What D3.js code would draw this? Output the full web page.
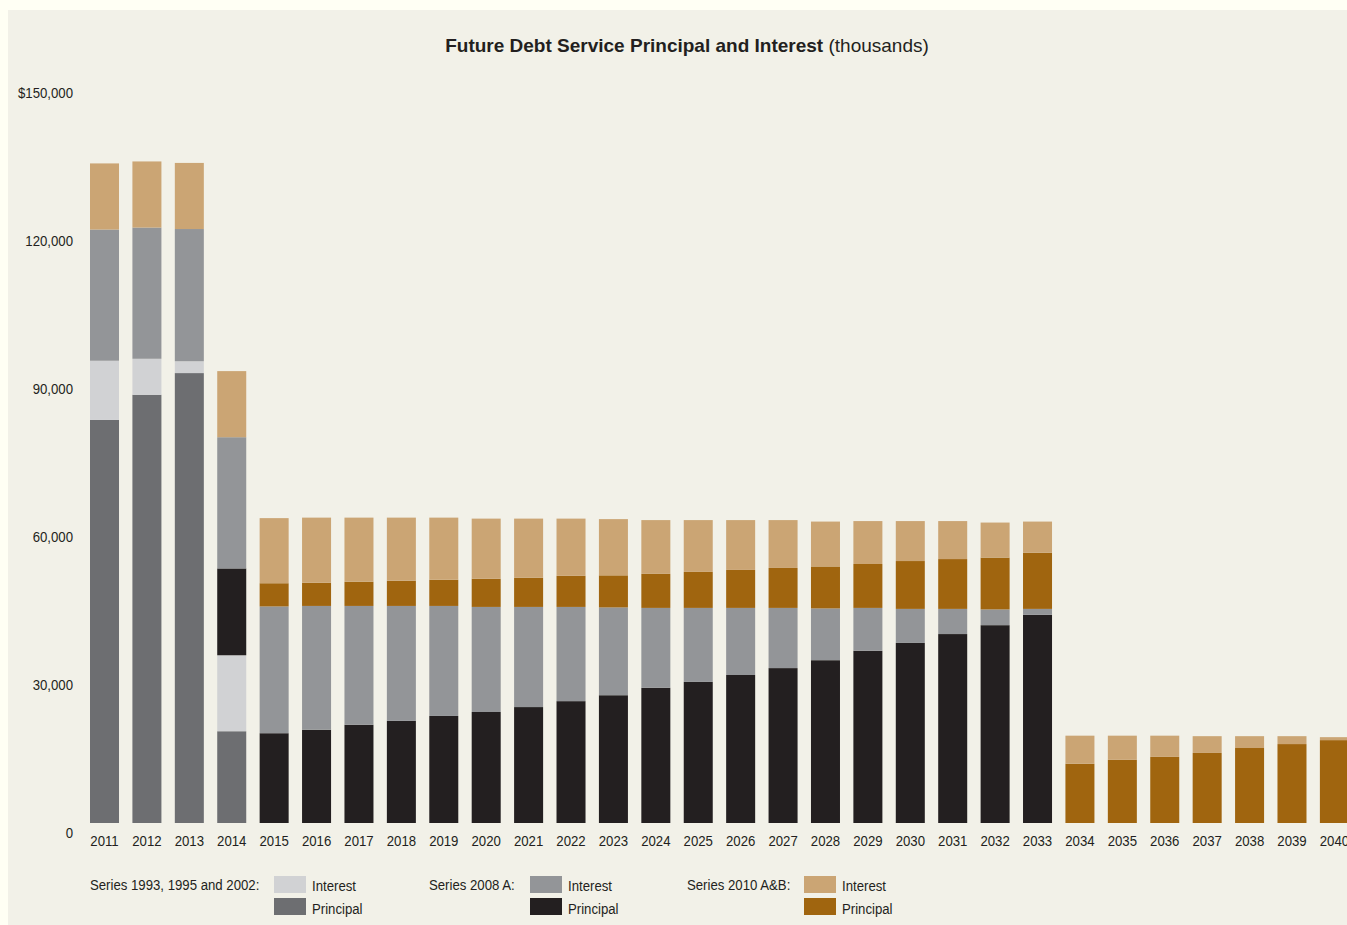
<!DOCTYPE html>
<html>
<head>
<meta charset="utf-8">
<script src="https://cdnjs.cloudflare.com/ajax/libs/d3/7.8.5/d3.min.js"></script>
<style>
  html, body { margin: 0; padding: 0; background: #fffff4; }
  svg { display: block; }
  text { font-family: "Liberation Sans", Arial, sans-serif; fill: #231f20; }
</style>
</head>
<body>
<script>
'use strict';

// years on the x axis
var years = d3.range(2011, 2041).map(String);

// Series 1993, 1995 and 2002 (thousands)
var s93Principal = [81700, 86800, 91200, 18600, 0, 0, 0, 0, 0, 0, 0, 0, 0, 0, 0, 0, 0, 0, 0, 0, 0, 0, 0, 0, 0, 0, 0, 0, 0, 0];
var s93Interest = [12000, 7300, 2400, 15400, 0, 0, 0, 0, 0, 0, 0, 0, 0, 0, 0, 0, 0, 0, 0, 0, 0, 0, 0, 0, 0, 0, 0, 0, 0, 0];

// Series 2008 A
var s08Principal = [0, 0, 0, 17600, 18200, 18900, 19900, 20700, 21700, 22500, 23500, 24700, 25900, 27400, 28600, 30000, 31400, 33000, 34900, 36500, 38300, 40100, 42200, 0, 0, 0, 0, 0, 0, 0];
var s08Interest = [26600, 26600, 26800, 26600, 25700, 25100, 24100, 23300, 22300, 21300, 20300, 19100, 17800, 16200, 15000, 13600, 12200, 10500, 8700, 6900, 5100, 3200, 1200, 0, 0, 0, 0, 0, 0, 0];

// Series 2010 A&B
var s10Principal = [0, 0, 0, 0, 4700, 4700, 4900, 5100, 5300, 5700, 5900, 6300, 6500, 6900, 7300, 7700, 8100, 8500, 8900, 9700, 10100, 10500, 11400, 12000, 12800, 13400, 14200, 15200, 16000, 16800];
var s10Interest = [13400, 13400, 13400, 13400, 13200, 13200, 13000, 12800, 12600, 12200, 12000, 11600, 11400, 10900, 10500, 10100, 9700, 9100, 8700, 8100, 7700, 7100, 6300, 5700, 4900, 4300, 3400, 2400, 1600, 600];

var yTicks = [0, 30000, 60000, 90000, 120000, 150000];

// stacking order bottom -> top
var layers = [
    { key: 's93p', values: s93Principal, color: '#6d6e71' },
    { key: 's93i', values: s93Interest, color: '#d1d2d4' },
    { key: 's08p', values: s08Principal, color: '#231f20' },
    { key: 's08i', values: s08Interest, color: '#939598' },
    { key: 's10p', values: s10Principal, color: '#a0650f' },
    { key: 's10i', values: s10Interest, color: '#cba574' }
];

var legendGroups = [
    { label: 'Series 1993, 1995 and 2002:', x: 90, sx: 274, interest: '#d1d2d4', principal: '#6d6e71' },
    { label: 'Series 2008 A:', x: 429, sx: 530, interest: '#939598', principal: '#231f20' },
    { label: 'Series 2010 A&B:', x: 687, sx: 804, interest: '#cba574', principal: '#a0650f' }
];

var W = 1347, H = 925;
var narrow = 0.88; // the original uses a condensed face

// squeeze text horizontally around its anchor point
var condense = function (sel, k) {
    sel.each(function () {
        var t = d3.select(this);
        var tx = +t.attr('x') || 0;
        var ty = +t.attr('y') || 0;
        t.attr('x', 0).attr('y', 0)
            .attr('transform', 'translate(' + tx + ',' + ty + ') scale(' + k + ',1)');
    });
};

var svg = d3.select('body').append('svg')
    .attr('width', W)
    .attr('height', H);

// panel
svg.append('rect')
    .attr('x', 8).attr('y', 10)
    .attr('width', W - 8).attr('height', H - 10)
    .attr('fill', '#f2f1e8');

var rows = years.map(function (yr, i) {
    var r = { year: yr };
    layers.forEach(function (l) { r[l.key] = l.values[i]; });
    return r;
});

var stack = d3.stack().keys(layers.map(function (l) { return l.key; }));
var series = stack(rows);

var x = d3.scaleBand()
    .domain(years)
    .range([76.6, 1362.3])
    .padding(0.316);

var y = d3.scaleLinear()
    .domain([0, 150000])
    .range([823, 83]);

// title
var title = svg.append('text')
    .attr('x', 687)
    .attr('y', 52)
    .attr('text-anchor', 'middle')
    .style('font-size', '19px');
title.append('tspan').style('font-weight', 'bold').text('Future Debt Service Principal and Interest');
title.append('tspan').text(' (thousands)');

// bars
var g = svg.append('g');
g.selectAll('g.layer')
    .data(series)
    .enter()
    .append('g')
    .attr('class', 'layer')
    .attr('fill', function (s, i) { return layers[i].color; })
    .selectAll('rect')
    .data(function (s) { return s; })
    .enter()
    .append('rect')
    .attr('x', function (d) { return x(d.data.year); })
    .attr('width', x.bandwidth())
    .attr('y', function (d) { return y(d[1]); })
    .attr('height', function (d) { return y(d[0]) - y(d[1]); });

// y axis labels (no line)
var yAxis = d3.axisLeft(y)
    .tickValues(yTicks)
    .tickSize(0)
    .tickPadding(0)
    .tickFormat(function (v) {
        var s = d3.format(',')(v);
        return v === 150000 ? '$' + s : s;
    });
var ya = svg.append('g')
    .attr('transform', 'translate(73,10)')
    .call(yAxis);
ya.select('.domain').remove();
ya.selectAll('text')
    .style('font-size', '15px')
    .attr('fill', '#231f20');
condense(ya.selectAll('text'), narrow);

// x axis labels
var xAxis = d3.axisBottom(x).tickSize(0).tickPadding(0);
var xa = svg.append('g')
    .attr('transform', 'translate(0,835)')
    .call(xAxis);
xa.select('.domain').remove();
xa.selectAll('text')
    .style('font-size', '15px')
    .attr('fill', '#231f20');
condense(xa.selectAll('text'), narrow);

// legend
var lg = svg.append('g').selectAll('g')
    .data(legendGroups)
    .enter()
    .append('g');

lg.append('text')
    .attr('class', 'lg-text')
    .attr('x', function (d) { return d.x; })
    .attr('y', 890)
    .style('font-size', '15px')
    .text(function (d) { return d.label; });

lg.append('rect')
    .attr('x', function (d) { return d.sx; })
    .attr('y', 876)
    .attr('width', 32).attr('height', 17)
    .attr('fill', function (d) { return d.interest; });

lg.append('rect')
    .attr('x', function (d) { return d.sx; })
    .attr('y', 898)
    .attr('width', 32).attr('height', 17)
    .attr('fill', function (d) { return d.principal; });

lg.append('text')
    .attr('class', 'lg-text')
    .attr('x', function (d) { return d.sx + 38; })
    .attr('y', 891)
    .style('font-size', '15px')
    .text('Interest');

lg.append('text')
    .attr('class', 'lg-text')
    .attr('x', function (d) { return d.sx + 38; })
    .attr('y', 914)
    .style('font-size', '15px')
    .text('Principal');

condense(svg.selectAll('text.lg-text'), narrow);
</script>
</body>
</html>
